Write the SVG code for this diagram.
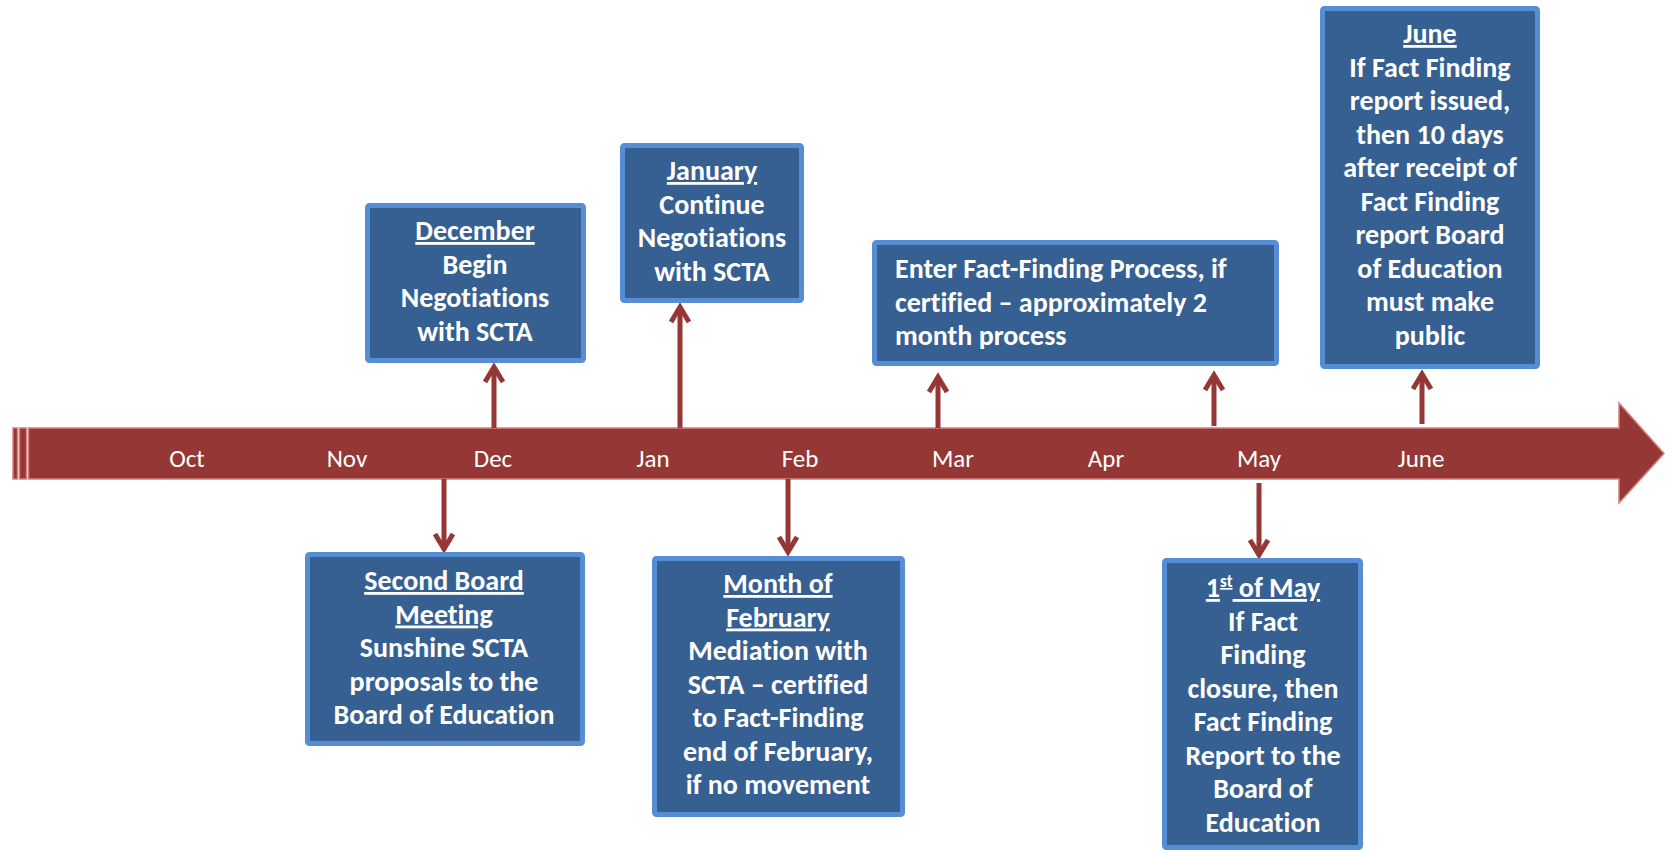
<svg xmlns="http://www.w3.org/2000/svg" width="1665" height="851" viewBox="0 0 1665 851">
<defs>
<style>
.box{fill:#376092;stroke:#558ED5;stroke-width:5}
.bt{font-family:Carlito,Lato,"Liberation Sans",sans-serif;font-weight:bold;font-size:28px;fill:#FFFFFF;text-anchor:middle;font-variant-ligatures:none}
.ul{text-decoration:underline}
.mo{font-family:Carlito,Lato,"Liberation Sans",sans-serif;font-size:25px;fill:#FFFFFF;text-anchor:middle}
.tl{fill:#953735;stroke:#D6807E;stroke-width:1.5}
.con{stroke:#953735;stroke-width:5;fill:none;marker-end:url(#head)}
</style>
<marker id="head" markerUnits="userSpaceOnUse" markerWidth="30" markerHeight="30" refX="0" refY="0" orient="auto" overflow="visible">
<path d="M-15,-9 L0,0 L-15,9" fill="none" stroke="#953735" stroke-width="5"/>
</marker>
</defs>

<g id="timeline">
<rect class="tl" x="13" y="428" width="4.5" height="51"/>
<rect class="tl" x="19.5" y="428" width="7" height="51"/>
<path class="tl" d="M28.5,428 L1619,428 L1619,403 L1664,453.5 L1619,503 L1619,479 L28.5,479 Z"/>
<text class="mo" x="187" y="467">Oct</text>
<text class="mo" x="347" y="467">Nov</text>
<text class="mo" x="493" y="467">Dec</text>
<text class="mo" x="653" y="467">Jan</text>
<text class="mo" x="800" y="467">Feb</text>
<text class="mo" x="953" y="467">Mar</text>
<text class="mo" x="1106" y="467">Apr</text>
<text class="mo" x="1259" y="467">May</text>
<text class="mo" x="1421" y="467">June</text>
</g>

<g id="connectors">
<line class="con" x1="494" y1="428" x2="494" y2="367"/>
<line class="con" x1="680" y1="428" x2="680" y2="307"/>
<line class="con" x1="938" y1="428" x2="938" y2="377"/>
<line class="con" x1="1214" y1="426" x2="1214" y2="375"/>
<line class="con" x1="1422" y1="424" x2="1422" y2="374"/>
<line class="con" x1="444" y1="479" x2="444" y2="549"/>
<line class="con" x1="788" y1="479" x2="788" y2="552"/>
<line class="con" x1="1259" y1="483" x2="1259" y2="555"/>
</g>

<g id="december">
<rect class="box" x="367.5" y="205.5" width="216" height="155" rx="2"/>
<text class="bt" x="475" y="240"><tspan class="ul">December</tspan></text>
<text class="bt" x="475" y="273.5">Begin</text>
<text class="bt" x="475" y="307">Negotiations</text>
<text class="bt" x="475" y="340.5">with SCTA</text>
</g>

<g id="january">
<rect class="box" x="622.5" y="145.5" width="179" height="155" rx="2"/>
<text class="bt" x="712" y="180"><tspan class="ul">January</tspan></text>
<text class="bt" x="712" y="213.5">Continue</text>
<text class="bt" x="712" y="247">Negotiations</text>
<text class="bt" x="712" y="280.5">with SCTA</text>
</g>

<g id="factfinding">
<rect class="box" x="874.5" y="242.5" width="402" height="121" rx="2"/>
<text class="bt" style="text-anchor:start" x="895" y="278">Enter Fact-Finding Process, if</text>
<text class="bt" style="text-anchor:start" x="895" y="311.5">certified – approximately 2</text>
<text class="bt" style="text-anchor:start" x="895" y="345">month process</text>
</g>

<g id="june">
<rect class="box" x="1322.5" y="8.5" width="215" height="358" rx="2"/>
<text class="bt" x="1430" y="43"><tspan class="ul">June</tspan></text>
<text class="bt" x="1430" y="76.5">If Fact Finding</text>
<text class="bt" x="1430" y="110">report issued,</text>
<text class="bt" x="1430" y="143.5">then 10 days</text>
<text class="bt" x="1430" y="177">after receipt of</text>
<text class="bt" x="1430" y="210.5">Fact Finding</text>
<text class="bt" x="1430" y="244">report Board</text>
<text class="bt" x="1430" y="277.5">of Education</text>
<text class="bt" x="1430" y="311">must make</text>
<text class="bt" x="1430" y="344.5">public</text>
</g>

<g id="second-board">
<rect class="box" x="307.5" y="554.5" width="275" height="189" rx="2"/>
<text class="bt" x="444" y="590"><tspan class="ul">Second Board</tspan></text>
<text class="bt" x="444" y="623.5"><tspan class="ul">Meeting</tspan></text>
<text class="bt" x="444" y="657">Sunshine SCTA</text>
<text class="bt" x="444" y="690.5">proposals to the</text>
<text class="bt" x="444" y="724">Board of Education</text>
</g>

<g id="february">
<rect class="box" x="654.5" y="558.5" width="248" height="256" rx="2"/>
<text class="bt" x="778" y="593"><tspan class="ul">Month of</tspan></text>
<text class="bt" x="778" y="626.5"><tspan class="ul">February</tspan></text>
<text class="bt" x="778" y="660">Mediation with</text>
<text class="bt" x="778" y="693.5">SCTA – certified</text>
<text class="bt" x="778" y="727">to Fact-Finding</text>
<text class="bt" x="778" y="760.5">end of February,</text>
<text class="bt" x="778" y="794">if no movement</text>
</g>

<g id="may">
<rect class="box" x="1164.5" y="560.5" width="196" height="287" rx="2"/>
<text class="bt" x="1263" y="597"><tspan class="ul">1<tspan baseline-shift="super" font-size="17">st</tspan> of May</tspan></text>
<text class="bt" x="1263" y="630.5">If Fact</text>
<text class="bt" x="1263" y="664">Finding</text>
<text class="bt" x="1263" y="697.5">closure, then</text>
<text class="bt" x="1263" y="731">Fact Finding</text>
<text class="bt" x="1263" y="764.5">Report to the</text>
<text class="bt" x="1263" y="798">Board of</text>
<text class="bt" x="1263" y="831.5">Education</text>
</g>
</svg>
